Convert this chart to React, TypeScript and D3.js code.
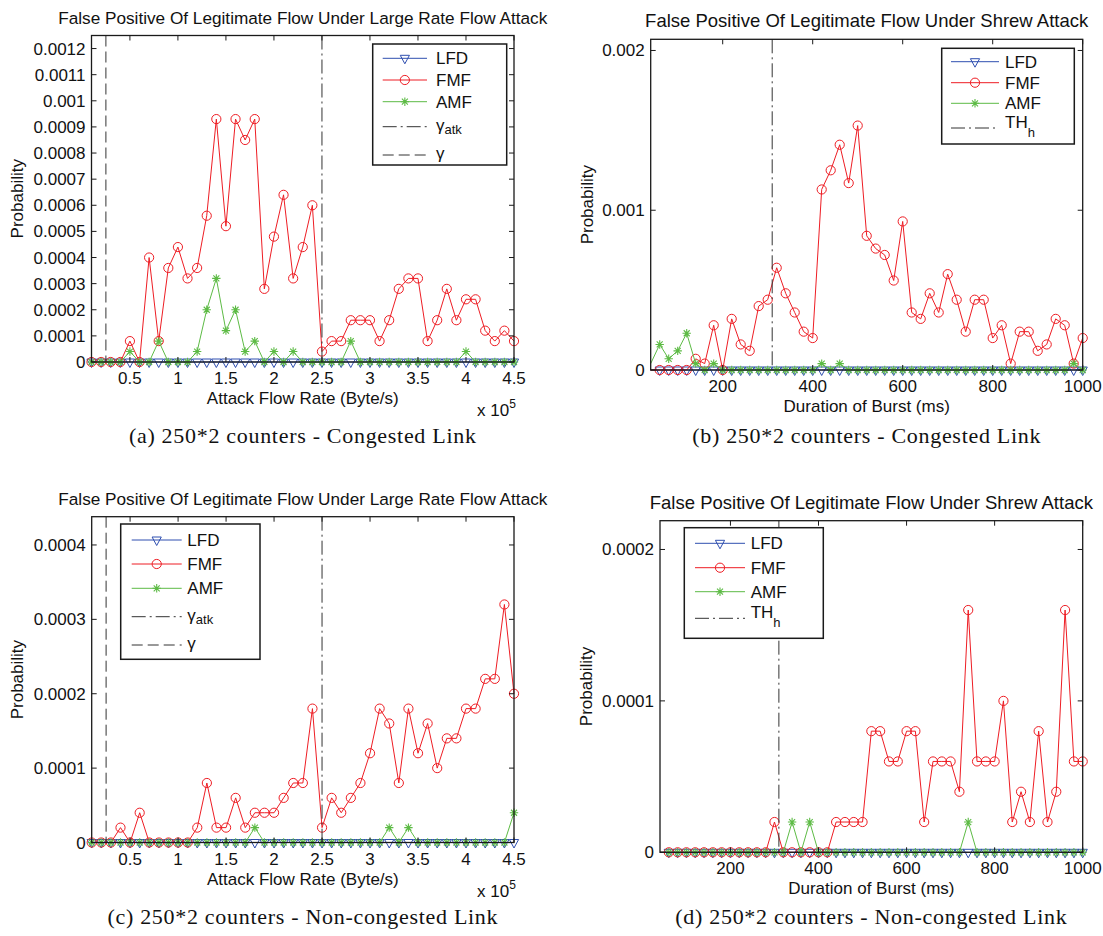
import React from 'react';
import * as d3 from 'd3';

// x values (attack rate in units of 1e5 Byte/s)
const rateX = [
  0.1, 0.2, 0.3, 0.4, 0.5, 0.6, 0.7, 0.8, 0.9, 1.0,
  1.1, 1.2, 1.3, 1.4, 1.5, 1.6, 1.7, 1.8, 1.9, 2.0,
  2.1, 2.2, 2.3, 2.4, 2.5, 2.6, 2.7, 2.8, 2.9, 3.0,
  3.1, 3.2, 3.3, 3.4, 3.5, 3.6, 3.7, 3.8, 3.9, 4.0,
  4.1, 4.2, 4.3, 4.4, 4.5,
];
// x values (burst duration, ms)
const burstX = [
  40, 60, 80, 100, 120, 140, 160, 180, 200, 220,
  240, 260, 280, 300, 320, 340, 360, 380, 400, 420,
  440, 460, 480, 500, 520, 540, 560, 580, 600, 620,
  640, 660, 680, 700, 720, 740, 760, 780, 800, 820,
  840, 860, 880, 900, 920, 940, 960, 980, 1000,
];

// (a) large rate, congested
const lfdA = [
  0, 0, 0, 0, 0, 0, 0, 0, 0, 0, 0, 0, 0, 0, 0, 0, 0, 0, 0, 0, 0, 0, 0,
  0, 0, 0, 0, 0, 0, 0, 0, 0, 0, 0, 0, 0, 0, 0, 0, 0, 0, 0, 0, 0, 0,
];
const fmfA = [
  0, 0, 0, 0, 0.00008, 0, 0.0004, 0.00008, 0.00036, 0.00044,
  0.00032, 0.00036, 0.00056, 0.00093, 0.00052, 0.00093, 0.00085, 0.00093, 0.00028, 0.00048,
  0.00064, 0.00032, 0.00044, 0.0006, 0.00004, 0.00008, 0.00008, 0.00016, 0.00016, 0.00016,
  0.00008, 0.00016, 0.00028, 0.00032, 0.00032, 0.00008, 0.00016, 0.00028, 0.00016, 0.00024,
  0.00024, 0.00012, 0.00008, 0.00012, 0.00008,
];
const amfA = [
  0, 0, 0, 0, 0.00004, 0, 0, 0.00008, 0, 0,
  0, 0.00004, 0.0002, 0.00032, 0.00012, 0.0002, 0.00004, 0.00008, 0, 0.00004,
  0, 0.00004, 0, 0, 0, 0, 0, 0.00008, 0, 0,
  0, 0, 0, 0, 0, 0, 0, 0, 0, 0.00004,
  0, 0, 0, 0, 0,
];

// (b) shrew, congested
const lfdB = [
  0, 0, 0, 0, 0, 0, 0, 0, 0, 0, 0, 0, 0, 0, 0, 0, 0, 0, 0, 0, 0, 0, 0, 0, 0,
  0, 0, 0, 0, 0, 0, 0, 0, 0, 0, 0, 0, 0, 0, 0, 0, 0, 0, 0, 0, 0, 0, 0, 0,
];
const fmfB = [
  0, 0, 0, 0, 0, 0.00007, 0.00004, 0.00028, 0, 0.00032,
  0.00016, 0.00012, 0.0004, 0.00044, 0.00064, 0.00048, 0.00036, 0.00024, 0.0002, 0.00113,
  0.00125, 0.00141, 0.00117, 0.00153, 0.00084, 0.00076, 0.00072, 0.00056, 0.00093, 0.00036,
  0.00032, 0.00048, 0.00036, 0.0006, 0.00044, 0.00024, 0.00044, 0.00044, 0.0002, 0.00028,
  0.00004, 0.00024, 0.00024, 0.00012, 0.00016, 0.00032, 0.00028, 0.00004, 0.0002,
];
const amfB = [
  0.00004, 0.00016, 0.00007, 0.00012, 0.00023, 0.00004, 0, 0.00004, 0, 0,
  0, 0, 0, 0, 0, 0, 0, 0, 0, 0.00004,
  0, 0.00004, 0, 0, 0, 0, 0, 0, 0, 0,
  0, 0, 0, 0, 0, 0, 0, 0, 0, 0,
  0, 0, 0, 0, 0, 0, 0, 0.00004, 0,
];

// (c) large rate, non-congested
const lfdC = [
  0, 0, 0, 0, 0, 0, 0, 0, 0, 0, 0, 0, 0, 0, 0, 0, 0, 0, 0, 0, 0, 0, 0,
  0, 0, 0, 0, 0, 0, 0, 0, 0, 0, 0, 0, 0, 0, 0, 0, 0, 0, 0, 0, 0, 0,
];
const fmfC = [
  0, 0, 0, 0.00002, 0, 0.00004, 0, 0, 0, 0,
  0, 0.00002, 0.00008, 0.00002, 0.00002, 0.00006, 0.00002, 0.00004, 0.00004, 0.00004,
  0.00006, 0.00008, 0.00008, 0.00018, 0.00002, 0.00006, 0.00004, 0.00006, 0.00008, 0.00012,
  0.00018, 0.00016, 0.00008, 0.00018, 0.00012, 0.00016, 0.0001, 0.00014, 0.00014, 0.00018,
  0.00018, 0.00022, 0.00022, 0.00032, 0.0002,
];
const amfC = [
  0, 0, 0, 0, 0, 0, 0, 0, 0, 0,
  0, 0, 0, 0, 0, 0, 0, 0.00002, 0, 0,
  0, 0, 0, 0, 0, 0, 0, 0, 0, 0,
  0, 0.00002, 0, 0.00002, 0, 0, 0, 0, 0, 0,
  0, 0, 0, 0, 0.00004,
];

// (d) shrew, non-congested
const lfdD = [
  0, 0, 0, 0, 0, 0, 0, 0, 0, 0, 0, 0, 0, 0, 0, 0, 0, 0, 0, 0, 0, 0, 0, 0, 0,
  0, 0, 0, 0, 0, 0, 0, 0, 0, 0, 0, 0, 0, 0, 0, 0, 0, 0, 0, 0, 0, 0, 0, 0,
];
const fmfD = [
  0, 0, 0, 0, 0, 0, 0, 0, 0, 0,
  0, 0, 0, 0.00002, 0, 0, 0, 0, 0, 0,
  0.00002, 0.00002, 0.00002, 0.00002, 0.00008, 0.00008, 0.00006, 0.00006, 0.00008, 0.00008,
  0.00002, 0.00006, 0.00006, 0.00006, 0.00004, 0.00016, 0.00006, 0.00006, 0.00006, 0.0001,
  0.00002, 0.00004, 0.00002, 0.00008, 0.00002, 0.00004, 0.00016, 0.00006, 0.00006,
];
const amfD = [
  0, 0, 0, 0, 0, 0, 0, 0, 0, 0,
  0, 0, 0, 0, 0, 0.00002, 0, 0.00002, 0, 0,
  0, 0, 0, 0, 0, 0, 0, 0, 0, 0,
  0, 0, 0, 0, 0, 0.00002, 0, 0, 0, 0,
  0, 0, 0, 0, 0, 0, 0, 0, 0,
];

// ticks
const rateTicks = [0.5, 1, 1.5, 2, 2.5, 3, 3.5, 4, 4.5];
const rateTickLabels = ['0.5', '1', '1.5', '2', '2.5', '3', '3.5', '4', '4.5'];
const burstTicks = [200, 400, 600, 800, 1000];
const burstTickLabels = ['200', '400', '600', '800', '1000'];
const yTicksA = [0, 0.0001, 0.0002, 0.0003, 0.0004, 0.0005, 0.0006, 0.0007, 0.0008, 0.0009, 0.001, 0.0011, 0.0012];
const yTickLabelsA = ['0', '0.0001', '0.0002', '0.0003', '0.0004', '0.0005', '0.0006', '0.0007', '0.0008', '0.0009', '0.001', '0.0011', '0.0012'];
const yTicksB = [0, 0.001, 0.002];
const yTickLabelsB = ['0', '0.001', '0.002'];
const yTicksC = [0, 0.0001, 0.0002, 0.0003, 0.0004];
const yTickLabelsC = ['0', '0.0001', '0.0002', '0.0003', '0.0004'];
const yTicksD = [0, 0.0001, 0.0002];
const yTickLabelsD = ['0', '0.0001', '0.0002'];

const seriesNames = ['LFD', 'FMF', 'AMF'];
const gammaRate = 0.25;
const gammaAtkRate = 2.5;
const thH = 310;

const SANS = 'Liberation Sans, Arial, Helvetica, sans-serif';
const SERIF = 'Liberation Serif, Times New Roman, serif';
const BLUE = '#2f4fb0';
const RED = '#ee1d24';
const GREEN = '#5dbb45';
const AXIS = '#1a1a1a';
const colors = [BLUE, RED, GREEN];
const kinds = ['tri', 'circle', 'star'];

type Kind = 'tri' | 'circle' | 'star';

function Marker({ kind, x, y, color }: { kind: Kind; x: number; y: number; color: string }) {
  if (kind === 'circle') return <circle cx={x} cy={y} r={4.6} fill="none" stroke={color} strokeWidth={1} />;
  if (kind === 'tri')
    return <path d={`M${x - 4.6},${y - 3}L${x + 4.6},${y - 3}L${x},${y + 5.5}Z`} fill="none" stroke={color} strokeWidth={1} />;
  const s = 4.2;
  const d = 3;
  return (
    <path
      d={`M${x - s},${y}H${x + s}M${x},${y - s}V${y + s}M${x - d},${y - d}L${x + d},${y + d}M${x - d},${y + d}L${x + d},${y - d}`}
      stroke={color}
      strokeWidth={1.1}
      fill="none"
    />
  );
}

interface VLine {
  x: number;
  dash: string;
  label: string;
  sub?: string;
  subDy?: number;
  textDy?: number;
}

interface PanelProps {
  box: { l: number; r: number; t: number; b: number };
  xs: number[];
  xDomain: [number, number];
  xTicks: number[];
  xTickLabels: string[];
  yDomain: [number, number];
  yTicks: number[];
  yTickLabels: string[];
  values: number[][];
  markerStart: number;
  vlines: VLine[];
  legend: { l: number; r: number; t: number; b: number; rows: number[]; lx0: number; lx1: number; tx: number };
  title: string;
  titleSize: number;
  xlabel: string;
  ylabelX: number;
  caption: string;
  captionY: number;
  exponent?: boolean;
}

function Panel(p: PanelProps) {
  const { box } = p;
  const x = d3.scaleLinear().domain(p.xDomain).range([box.l, box.r]);
  const y = d3.scaleLinear().domain(p.yDomain).range([box.b, box.t]);
  const cx = (box.l + box.r) / 2;
  const tick = 5;
  return (
    <g fontFamily={SANS} fill="#111">
      {/* title */}
      <text x={cx} y={box.t - 12} textAnchor="middle" fontSize={p.titleSize}>{p.title}</text>
      {/* series */}
      {p.values.map((vals, si) => {
        const line = d3
          .line<number>()
          .x((_, i) => x(p.xs[i]))
          .y((v) => y(v));
        return (
          <g key={si}>
            <path d={line(vals) ?? ''} fill="none" stroke={colors[si]} strokeWidth={1} />
            {vals.map((v, i) =>
              i < p.markerStart ? null : (
                <Marker key={i} kind={kinds[si] as Kind} x={x(p.xs[i])} y={y(v)} color={colors[si]} />
              ),
            )}
          </g>
        );
      })}
      {/* threshold lines */}
      {p.vlines.map((v, i) => (
        <line key={i} x1={x(v.x)} x2={x(v.x)} y1={box.t} y2={box.b} stroke="#333" strokeWidth={1} strokeDasharray={v.dash} />
      ))}
      {/* axes box */}
      <rect x={box.l} y={box.t} width={box.r - box.l} height={box.b - box.t} fill="none" stroke={AXIS} strokeWidth={1.3} />
      {p.xTicks.map((t, i) => (
        <g key={'xt' + i}>
          <line x1={x(t)} x2={x(t)} y1={box.b} y2={box.b - tick} stroke={AXIS} />
          <line x1={x(t)} x2={x(t)} y1={box.t} y2={box.t + tick} stroke={AXIS} />
          <text x={x(t)} y={box.b + 22} textAnchor="middle" fontSize={17}>{p.xTickLabels[i]}</text>
        </g>
      ))}
      {p.yTicks.map((t, i) => (
        <g key={'yt' + i}>
          <line x1={box.l} x2={box.l + tick} y1={y(t)} y2={y(t)} stroke={AXIS} />
          <line x1={box.r} x2={box.r - tick} y1={y(t)} y2={y(t)} stroke={AXIS} />
          <text x={box.l - 6} y={y(t) + 6} textAnchor="end" fontSize={17}>{p.yTickLabels[i]}</text>
        </g>
      ))}
      <text x={cx} y={box.b + 42} textAnchor="middle" fontSize={17}>{p.xlabel}</text>
      {p.exponent && (
        <text x={box.r - 37} y={box.b + 54} fontSize={17}>
          x 10<tspan dy={-8} fontSize={12}>5</tspan>
        </text>
      )}
      <text
        x={p.ylabelX}
        y={(box.t + box.b) / 2}
        textAnchor="middle"
        fontSize={17}
        transform={`rotate(-90 ${p.ylabelX} ${(box.t + box.b) / 2})`}
        dy={6}
      >
        Probability
      </text>
      {/* legend */}
      <g>
        <rect x={p.legend.l} y={p.legend.t} width={p.legend.r - p.legend.l} height={p.legend.b - p.legend.t} fill="#fff" stroke={AXIS} strokeWidth={1.5} />
        {seriesNames.map((n, i) => {
          const ry = p.legend.rows[i];
          return (
            <g key={n}>
              <line x1={p.legend.lx0} x2={p.legend.lx1} y1={ry} y2={ry} stroke={colors[i]} strokeWidth={1} />
              <Marker kind={kinds[i] as Kind} x={(p.legend.lx0 + p.legend.lx1) / 2} y={ry} color={colors[i]} />
              <text x={p.legend.tx} y={ry + 6} fontSize={17}>{n}</text>
            </g>
          );
        })}
        {p.vlines.map((v, i) => {
          const ry = p.legend.rows[3 + i];
          return (
            <g key={'lv' + i}>
              <line x1={p.legend.lx0} x2={p.legend.lx1} y1={ry} y2={ry} stroke="#333" strokeWidth={1} strokeDasharray={v.dash} />
              <text x={p.legend.tx} y={ry + (v.textDy ?? 4)} fontSize={17}>
                {v.label}
                {v.sub && (
                  <tspan dy={v.subDy ?? 4} fontSize={13}>
                    {v.sub}
                  </tspan>
                )}
              </text>
            </g>
          );
        })}
      </g>
      {/* caption */}
      <text x={cx} y={p.captionY} textAnchor="middle" fontFamily={SERIF} fontSize={22} letterSpacing={0.7}>
        {p.caption}
      </text>
    </g>
  );
}

const DASH = '11,5';
const DASHDOT = '14,4,2,4';

export default function App() {
  return (
    <svg width={1103} height={936} style={{ position: 'absolute', left: 0, top: 0, background: '#fff' }}>
      <rect width={1103} height={936} fill="#fff" />
      <Panel
        box={{ l: 91.5, r: 514, t: 35.5, b: 362 }}
        xs={rateX}
        xDomain={[0.1, 4.5]}
        xTicks={rateTicks}
        xTickLabels={rateTickLabels}
        yDomain={[0, 0.00125]}
        yTicks={yTicksA}
        yTickLabels={yTickLabelsA}
        values={[lfdA, fmfA, amfA]}
        markerStart={0}
        vlines={[
          { x: gammaAtkRate, dash: DASHDOT, label: 'γ', sub: 'atk', subDy: 3 },
          { x: gammaRate, dash: DASH, label: 'γ' },
        ]}
        legend={{ l: 372.7, r: 506.7, t: 44, b: 165, rows: [58.3, 80, 101.7, 126.7, 155], lx0: 382.7, lx1: 427, tx: 436 }}
        title="False Positive Of Legitimate Flow Under Large Rate Flow Attack"
        titleSize={17.2}
        xlabel="Attack Flow Rate (Byte/s)"
        ylabelX={17}
        caption="(a) 250*2 counters - Congested Link"
        captionY={443}
        exponent
      />
      <Panel
        box={{ l: 650.7, r: 1082.7, t: 39.3, b: 370 }}
        xs={burstX}
        xDomain={[40, 1000]}
        xTicks={burstTicks}
        xTickLabels={burstTickLabels}
        yDomain={[0, 0.00207]}
        yTicks={yTicksB}
        yTickLabels={yTickLabelsB}
        values={[lfdB, fmfB, amfB]}
        markerStart={1}
        vlines={[{ x: thH, dash: DASHDOT, label: 'TH', sub: 'h', subDy: 8.5, textDy: 0 }]}
        legend={{ l: 941.7, r: 1074.3, t: 48.3, b: 144, rows: [61.7, 82.7, 103.3, 128], lx0: 951, lx1: 999, tx: 1005 }}
        title="False Positive Of Legitimate Flow Under Shrew Attack"
        titleSize={18.5}
        xlabel="Duration of Burst (ms)"
        ylabelX={587}
        caption="(b) 250*2 counters - Congested Link"
        captionY={443}
      />
      <Panel
        box={{ l: 91.7, r: 514, t: 516.7, b: 842.5 }}
        xs={rateX}
        xDomain={[0.1, 4.5]}
        xTicks={rateTicks}
        xTickLabels={rateTickLabels}
        yDomain={[0, 0.000438]}
        yTicks={yTicksC}
        yTickLabels={yTickLabelsC}
        values={[lfdC, fmfC, amfC]}
        markerStart={0}
        vlines={[
          { x: gammaAtkRate, dash: DASHDOT, label: 'γ', sub: 'atk', subDy: 3 },
          { x: gammaRate, dash: DASH, label: 'γ' },
        ]}
        legend={{ l: 120.7, r: 260, t: 524, b: 659.3, rows: [540, 564, 588.3, 616.7, 645], lx0: 131.7, lx1: 181.7, tx: 187.3 }}
        title="False Positive Of Legitimate Flow Under Large Rate Flow Attack"
        titleSize={17.2}
        xlabel="Attack Flow Rate (Byte/s)"
        ylabelX={17}
        caption="(c) 250*2 counters - Non-congested Link"
        captionY={924}
        exponent
      />
      <Panel
        box={{ l: 660, r: 1082.7, t: 520.7, b: 852.3 }}
        xs={burstX}
        xDomain={[40, 1000]}
        xTicks={burstTicks}
        xTickLabels={burstTickLabels}
        yDomain={[0, 0.000219]}
        yTicks={yTicksD}
        yTickLabels={yTickLabelsD}
        values={[lfdD, fmfD, amfD]}
        markerStart={1}
        vlines={[{ x: thH, dash: DASHDOT, label: 'TH', sub: 'h', subDy: 8.5, textDy: 0 }]}
        legend={{ l: 684.3, r: 823.3, t: 527.7, b: 638.3, rows: [543.3, 567.7, 591.7, 618.3], lx0: 695, lx1: 745, tx: 750.7 }}
        title="False Positive Of Legitimate Flow Under Shrew Attack"
        titleSize={18.5}
        xlabel="Duration of Burst (ms)"
        ylabelX={586}
        caption="(d) 250*2 counters - Non-congested Link"
        captionY={924}
      />
    </svg>
  );
}
